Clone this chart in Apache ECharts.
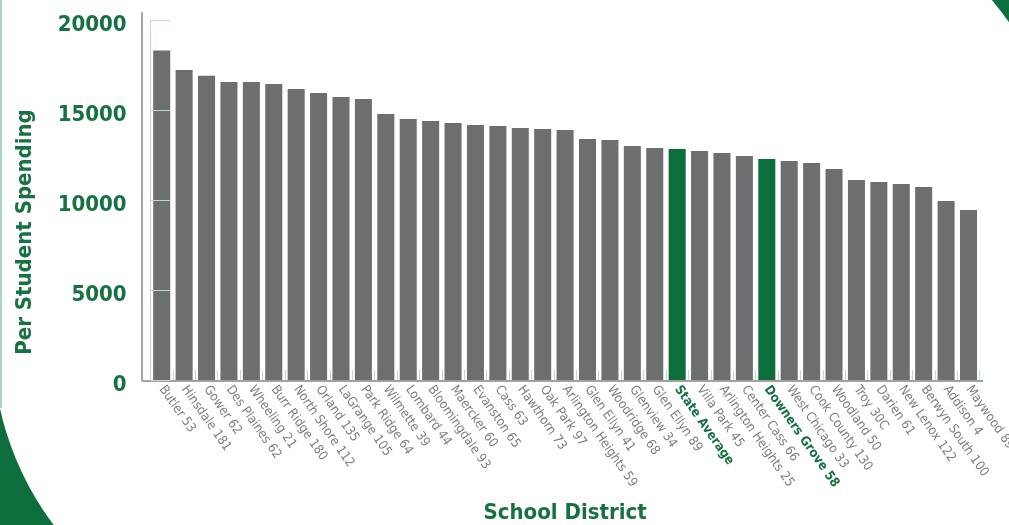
<!DOCTYPE html>
<html>
<head>
<meta charset="utf-8">
<script src="https://cdn.jsdelivr.net/npm/echarts@6/dist/echarts.min.js"></script>
<style>html,body{margin:0;padding:0;background:#fff}#c{width:1009px;height:525px}</style>
</head>
<body>
<div id="c"></div>
<script>
const categories = ["Butler 53","Hinsdale 181","Gower 62","Des Plaines 62","Wheeling 21","Burr Ridge 180","North Shore 112","Orland 135","LaGrange 105","Park Ridge 64","Wilmette 39","Lombard 44","Bloomingdale 93","Maercker 60","Evanston 65","Cass 63","Hawthorn 73","Oak Park 97","Arlington Heights 59","Glen Ellyn 41","Woodridge 68","Glenview 34","Glen Ellyn 89","State Average","Villa Park 45","Arlington Heights 25","Center Cass 66","Downers Grove 58","West Chicago 33","Cook County 130","Woodland 50","Troy 30C","Darien 61","New Lenox 122","Berwyn South 100","Addison 4","Maywood 89"];
const spending = [18300,17220,16900,16550,16550,16440,16170,15940,15720,15610,14780,14500,14390,14280,14170,14110,14000,13940,13890,13390,13330,13000,12890,12830,12720,12610,12440,12280,12170,12060,11720,11110,11000,10890,10720,9940,9440];
const highlighted = ["State Average","Downers Grove 58"];
const yTicks = [0,5000,10000,15000,20000];

const GREEN = '#0c6e3c';
const TEXTGREEN = '#167240';
const GRAY = '#6d6e70';
const MINT = '#b9dccd';
const FONT = 'DejaVu Sans Condensed';

const chart = echarts.init(document.getElementById('c'));
chart.setOption({
  backgroundColor: GREEN,
  animation: false,
  graphic: [
    {type:'rect', z:-100, silent:true, shape:{x:-7,y:-106,width:1070,height:750,r:[0,300,0,300]}, style:{fill:'#ffffff'}},
    {type:'line', z:-90, silent:true, shape:{x1:1,y1:0,x2:1,y2:408}, style:{stroke:'#a9d6c3',lineWidth:2}},
    {type:'line', z:5, silent:true, shape:{x1:142,y1:12,x2:142,y2:381}, style:{stroke:'#8a8a8a',lineWidth:1.5}},
    {type:'line', z:5, silent:true, shape:{x1:142,y1:381,x2:983,y2:381}, style:{stroke:'#a0a0a0',lineWidth:2}}
  ],
  grid: {left:150.5, right:29.3, top:20, bottom:145, containLabel:false, outerBoundsMode:'none'},
  xAxis: {
    type:'category',
    data: categories.map(c => highlighted.includes(c)
      ? {value:c, textStyle:{color:TEXTGREEN, fontWeight:'bold'}}
      : c),
    name:'School District',
    nameLocation:'middle',
    nameGap:122,
    nameTextStyle:{color:TEXTGREEN, fontSize:22, fontWeight:'bold', fontFamily:FONT},
    axisLine:{show:false},
    axisTick:{show:true, inside:true, length:10, lineStyle:{color:MINT}},
    axisLabel:{interval:0, rotate:-55, color:'#7f7f7f', fontSize:13, fontFamily:FONT, margin:7},
    splitLine:{show:false}
  },
  yAxis: {
    type:'value',
    min:0, max:20000, interval:5000,
    z:10,
    name:'Per Student Spending',
    nameLocation:'middle',
    nameGap:114,
    nameTextStyle:{color:TEXTGREEN, fontSize:22, fontWeight:'bold', fontFamily:FONT, padding:[0,64,0,0]},
    axisLine:{show:true, lineStyle:{color:MINT, width:1}},
    axisTick:{show:true, inside:true, length:20, lineStyle:{color:MINT}},
    axisLabel:{color:TEXTGREEN, fontSize:22, fontWeight:'bold', fontFamily:FONT, margin:24,
      verticalAlign:'top', lineHeight:11,
      formatter: v => yTicks.includes(v) ? String(v) : ''},
    splitLine:{show:false}
  },
  series: [{
    type:'bar',
    barCategoryGap:'24%',
    data: spending.map((v,i) => ({value:v, itemStyle:{color: highlighted.includes(categories[i]) ? GREEN : GRAY}}))
  }]
});
</script>
</body>
</html>
